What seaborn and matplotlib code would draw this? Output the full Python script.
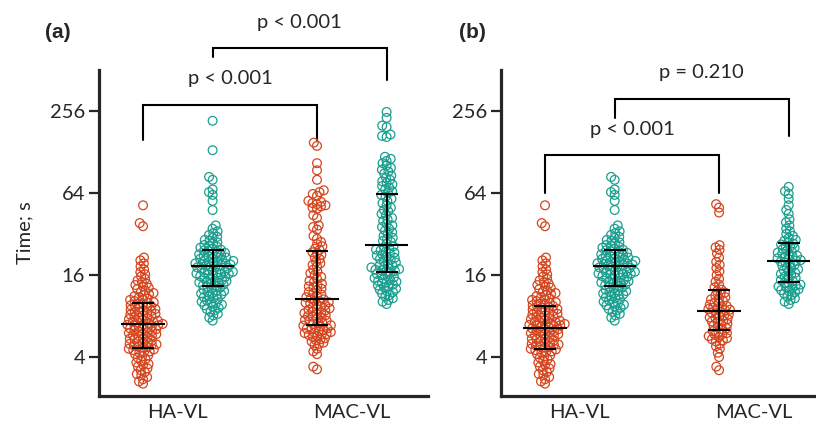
import numpy as np
import pandas as pd
import matplotlib
matplotlib.use("Agg")
import matplotlib.pyplot as plt
import seaborn as sns

# -----------------------------------------------------
# data (seconds)
# -----------------------------------------------------
conditions = ["HA-VL", "MAC-VL"]
series = ["first", "second"]
colors = ["#D4461F", "#1A9E8E"]

ha_first = [52.0, 38.5, 36.5, 21.5, 20.5, 19.5, 18.5, 17.6, 16.8, 16.2, 15.6, 15.0,
            14.6, 14.2, 13.8, 13.5, 13.2, 12.9, 12.6, 12.3, 12.0, 11.8, 11.6, 11.4,
            11.2, 11.0, 10.8, 10.6, 10.5, 10.3, 10.1, 10.0, 9.9, 9.8, 9.6, 9.5, 9.4,
            9.3, 9.2, 9.0, 8.9, 8.8, 8.7, 8.6, 8.5, 8.4, 8.3, 8.2, 8.1, 8.0, 7.9, 7.8,
            7.7, 7.6, 7.5, 7.4, 7.3, 7.25, 7.2, 7.1, 7.0, 6.95, 6.9, 6.85, 6.8, 6.75,
            6.7, 6.6, 6.5, 6.45, 6.4, 6.3, 6.2, 6.15, 6.1, 6.0, 5.95, 5.9, 5.8, 5.75,
            5.7, 5.6, 5.5, 5.45, 5.4, 5.3, 5.2, 5.15, 5.1, 5.0, 4.95, 4.9, 4.85, 4.8,
            4.75, 4.7, 4.6, 4.55, 4.5, 4.4, 4.35, 4.3, 4.2, 4.1, 4.05, 3.95, 3.85,
            3.75, 3.65, 3.55, 3.5, 3.4, 3.3, 3.2, 3.1, 3.0, 2.95, 2.85, 2.75, 2.65, 2.55]

ha_second_a = [217, 132, 84, 80, 68, 65, 62, 56, 48, 37, 35, 33.5, 32.5, 31.5, 30.5, 30,
               29, 28.5, 27.8, 27.2, 26.6, 26.2, 25.8, 25.4, 25, 24.6, 24.3, 24, 23.6,
               23.3, 23, 22.7, 22.4, 22.2, 22, 21.7, 21.5, 21.2, 21, 20.8, 20.5, 20.3,
               20.1, 19.9, 19.7, 19.5, 19.4, 19.2, 19.1, 18.9, 18.7, 18.5, 18.3, 18.2,
               18, 17.8, 17.6, 17.4, 17.2, 17, 16.9, 16.7, 16.6, 16.4, 16.3, 16.2, 16.1,
               15.9, 15.7, 15.5, 15.3, 15.1, 14.9, 14.7, 14.5, 14.4, 14.2, 14.1, 13.9,
               13.8, 13.6, 13.5, 13.3, 13.1, 12.9, 12.7, 12.5, 12.3, 12.2, 12, 11.8,
               11.7, 11.5, 11.4, 11.2, 11, 10.8, 10.6, 10.4, 10.2, 10.1, 9.9, 9.7, 9.6,
               9.4, 9.2, 9, 8.8, 8.6, 8.3, 8.1, 7.8, 7.4]

# panel (b) has the same HA-VL second series without its two highest values
ha_second_b = [84, 80, 68, 65, 62, 56, 48, 37, 35, 33.5, 32.5, 31.5, 30.5, 30,
               29, 28.5, 27.8, 27.2, 26.6, 26.2, 25.8, 25.4, 25, 24.6, 24.3, 24, 23.6,
               23.3, 23, 22.7, 22.4, 22.2, 22, 21.7, 21.5, 21.2, 21, 20.8, 20.5, 20.3,
               20.1, 19.9, 19.7, 19.5, 19.4, 19.2, 19.1, 18.9, 18.7, 18.5, 18.3, 18.2,
               18, 17.8, 17.6, 17.4, 17.2, 17, 16.9, 16.7, 16.6, 16.4, 16.3, 16.2, 16.1,
               15.9, 15.7, 15.5, 15.3, 15.1, 14.9, 14.7, 14.5, 14.4, 14.2, 14.1, 13.9,
               13.8, 13.6, 13.5, 13.3, 13.1, 12.9, 12.7, 12.5, 12.3, 12.2, 12, 11.8,
               11.7, 11.5, 11.4, 11.2, 11, 10.8, 10.6, 10.4, 10.2, 10.1, 9.9, 9.7, 9.6,
               9.4, 9.2, 9, 8.8, 8.6, 8.3, 8.1, 7.8, 7.4]

mac_first_a = [150, 142, 106, 94, 80, 67, 65, 63, 61, 56, 55, 54, 53, 52, 51, 50, 49,
               44, 42, 37, 36, 34.5, 31, 29.5, 28, 27, 26, 25, 24.5,
               23.5, 23, 22.5, 21.5, 21, 20, 19.5, 19, 18.5, 17.5, 17, 16.5, 16, 15.5,
               15, 14.5, 14.2, 13.8, 13.5, 13.2, 13, 12.7, 12.4, 12, 11.7, 11.5, 11.2,
               11, 10.8,
               10.6, 10.4, 10.3, 10.1, 10, 9.9, 9.7, 9.6, 9.4, 9.3, 9.1, 9.0, 8.9, 8.8,
               8.6, 8.5, 8.4, 8.3, 8.1, 8.0, 7.9, 7.8, 7.7, 7.5, 7.4, 7.3, 7.2, 7.1, 7.0,
               6.85, 6.8, 6.7, 6.6, 6.5, 6.45, 6.4, 6.3, 6.2, 6.1, 6.05, 6.0, 5.9, 5.85,
               5.8, 5.7, 5.6, 5.5, 5.4, 5.3, 5.2, 5.1, 5.0, 4.9, 4.6, 4.4, 4.2, 3.4, 3.25]

mac_second_a = [252, 228, 200, 195, 172, 168, 165, 118, 114, 110, 106, 102, 98, 95, 92,
                89, 86, 83, 80, 78, 76, 74, 72, 70, 68, 66, 64,
                62, 60, 58, 56, 54, 52, 50, 48, 47, 45, 44, 42, 41, 40, 38, 37, 36, 35,
                34, 33, 32, 31, 30, 29.5, 28.5, 28, 27.2,
                26, 25.5, 25, 24.6, 24.2, 23.8, 23.4, 23, 22.6, 22.2, 21.8, 21.4, 21,
                20.6, 20.2, 19.8, 19.4, 19, 18.8, 18.5, 18.2, 18, 17.7, 17.5, 17.3, 17.1,
                16.9,
                16.6, 16.3, 16, 15.7, 15.4, 15.2, 15, 14.7, 14.5, 14.3, 14.1, 13.9, 13.6,
                13.4, 13.2, 13, 12.7, 12.5, 12.2, 12, 11.7, 11.4, 11.1, 10.8, 10.5, 10.2,
                9.8]

mac_first_b = [53, 50, 46, 26.5, 25.5, 24.5, 23, 21.5, 20, 19, 18, 17, 16, 15, 14.3,
               13.6, 13, 12.5,
               12.2, 11.9, 11.6, 11.3, 11, 10.8, 10.6, 10.3, 10.1, 9.9, 9.7, 9.5, 9.3,
               9.2, 9.1, 9.0, 8.9, 8.8,
               8.6, 8.5, 8.4, 8.2, 8.1, 8.0, 7.8, 7.7, 7.6, 7.4, 7.3, 7.2, 7.0, 6.9, 6.8,
               6.6, 6.5, 6.4,
               6.2, 6.1, 6.0, 5.9, 5.8, 5.7, 5.6, 5.5, 5.4, 5.3, 5.2, 5.0, 4.8, 4.6, 4.3,
               4.0, 3.4, 3.2]

mac_second_b = [71, 66, 63, 58, 52, 48, 45, 41, 39, 37, 35, 33.5, 32, 31, 30, 29, 28.5,
                27.8,
                27.2, 26.8, 26.3, 25.8, 25.3, 24.8, 24.3, 23.8, 23.4, 23, 22.6, 22.2,
                21.8, 21.5, 21.2, 20.9, 20.6, 20.4,
                20.1, 19.8, 19.4, 19, 18.7, 18.3, 18, 17.6, 17.3, 17, 16.6, 16.3, 16,
                15.6, 15.3, 15, 14.7, 14.4,
                14.0, 13.8, 13.6, 13.4, 13.2, 13.0, 12.8, 12.6, 12.4, 12.2, 12.0, 11.7,
                11.4, 11.1, 10.8, 10.5, 10.2, 9.8]

# median and interquartile range, order: HA first, HA second, MAC first, MAC second
median_a = [7.0, 18.6, 10.7, 26.6]
low_a = [4.66, 13.3, 6.9, 16.8]
high_a = [10.0, 24.4, 24.0, 63.0]

median_b = [6.5, 18.6, 8.7, 20.3]
low_b = [4.6, 13.3, 6.3, 14.2]
high_b = [9.5, 24.4, 12.4, 27.5]

p_a = ["p < 0.001", "p < 0.001"]
p_b = ["p < 0.001", "p = 0.210"]


def make_frame(ha1, ha2, mac1, mac2):
    parts = []
    for cond, ser, vals in [("HA-VL", "first", ha1), ("HA-VL", "second", ha2),
                            ("MAC-VL", "first", mac1), ("MAC-VL", "second", mac2)]:
        parts.append(pd.DataFrame({"condition": cond, "series": ser, "time": vals}))
    return pd.concat(parts, ignore_index=True)


df_a = make_frame(ha_first, ha_second_a, mac_first_a, mac_second_a)
df_b = make_frame(ha_first, ha_second_b, mac_first_b, mac_second_b)

sns.set_style("ticks")
plt.rcParams["font.family"] = ["Lato", "DejaVu Sans"]

fig = plt.figure(figsize=(8.16, 4.29), dpi=100)
ax_a = fig.add_axes([99 / 816, 33 / 429, 329 / 816, 326 / 429])
ax_b = fig.add_axes([501 / 816, 33 / 429, 315 / 816, 326 / 429])

hue_offset = 0.2  # seaborn's default dodge for two hue levels
xlims = [(-0.453, 1.438), (-0.453, 1.357)]
fs = 14.5

for ax, df, xl in [(ax_a, df_a, xlims[0]), (ax_b, df_b, xlims[1])]:
    sns.swarmplot(data=df, x="condition", y="time", hue="series",
                  order=conditions, hue_order=series, palette=colors,
                  dodge=True, size=3.2, linewidth=0, log_scale=2,
                  legend=False, ax=ax)
    ax.set_ylim(2.07, 512)
    ax.set_xlim(*xl)
    ax.set_yticks([4, 16, 64, 256])
    ax.set_yticklabels(["4", "16", "64", "256"])
    ax.yaxis.set_minor_locator(matplotlib.ticker.NullLocator())
    ax.set_xlabel("")
    ax.set_ylabel("")
    for side in ["top", "right"]:
        ax.spines[side].set_visible(False)
    for side in ["left", "bottom"]:
        ax.spines[side].set_linewidth(2.3)
    ax.tick_params(axis="y", length=7, width=1.6, labelsize=fs, pad=3)
    ax.tick_params(axis="x", length=0, labelsize=fs, pad=6)

ax_a.set_ylabel("Time; s", fontsize=fs)
ax_a.yaxis.set_label_coords(-0.2, 0.5)

# run the swarm layout with small markers, then freeze it and draw open circles
fig.canvas.draw()
for ax in [ax_a, ax_b]:
    for coll in ax.collections:
        if "draw" in coll.__dict__:
            del coll.draw
        fc = coll.get_facecolor()
        coll.set_edgecolor(fc)
        coll.set_facecolor("none")
        coll.set_linewidth(0.9)
        coll.set_sizes([6.3 ** 2])

# median with interquartile range
for ax, med, lo, hi in [(ax_a, median_a, low_a, high_a), (ax_b, median_b, low_b, high_b)]:
    xs = [i + (j - 0.5) * 2 * hue_offset for i in range(len(conditions))
          for j in range(len(series))]
    med = np.array(med)
    yerr = [med - np.array(lo), np.array(hi) - med]
    ax.errorbar(xs, med, yerr=yerr, fmt="none", ecolor="black", elinewidth=1.5,
                capsize=7.9, capthick=1.5, zorder=4)
    ax.hlines(med, np.array(xs) - 0.125, np.array(xs) + 0.125, color="black",
              linewidth=1.5, zorder=4)


def bracket(ax, x1, x2, y, y1, y2, text, ty):
    ax.plot([x1, x1, x2, x2], [y1, y, y, y2], color="black", linewidth=1.5,
            clip_on=False, solid_joinstyle="miter")
    ax.text((x1 + x2) / 2, ty, text, ha="center", va="center", fontsize=fs,
            clip_on=False)


left, right = -hue_offset, hue_offset
bracket(ax_a, 0 + left, 1 + left, 284, 157, 157, p_a[0], 446)
bracket(ax_a, 0 + right, 1 + right, 743, 639, 433, p_a[1], 1152)
bracket(ax_b, 0 + left, 1 + left, 122, 64, 64, p_b[0], 186)
bracket(ax_b, 0 + right, 1 + right, 313, 228, 168, p_b[1], 494)

for x, lab in [(58, "(a)"), (472, "(b)")]:
    fig.text(x / 816, 1 - 33 / 429, lab, fontsize=15, fontweight="bold",
             family=["Liberation Sans", "DejaVu Sans"], ha="center", va="center")

fig.savefig("out.png", dpi=100)
